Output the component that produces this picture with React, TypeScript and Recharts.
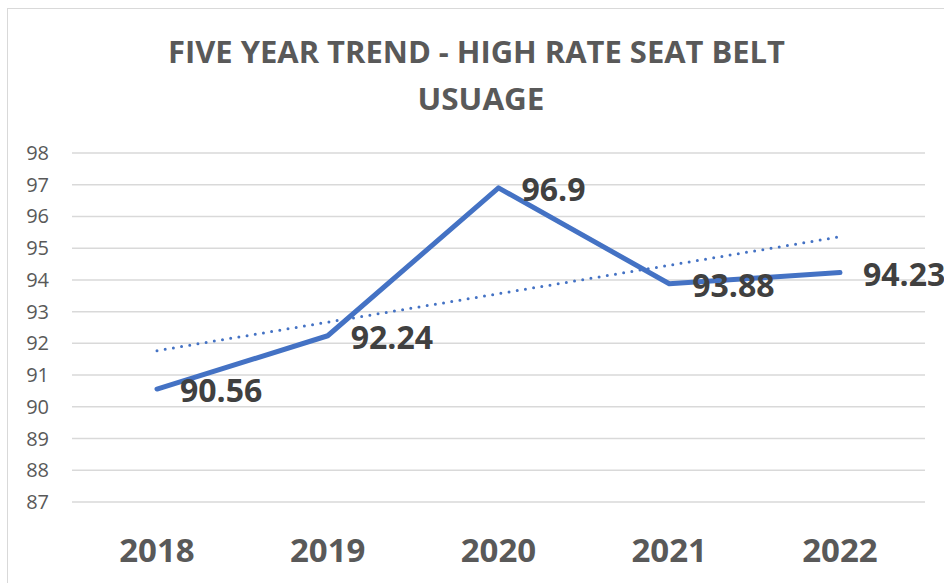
import React from 'react';
import { LineChart, Line, XAxis, YAxis, CartesianGrid, ReferenceLine, LabelList } from 'recharts';

const years = ['2018', '2019', '2020', '2021', '2022'];
const usage = [90.56, 92.24, 96.9, 93.88, 94.23];
const yTicks = [87, 88, 89, 90, 91, 92, 93, 94, 95, 96, 97, 98];
const trendStart = 91.77;
const trendEnd = 95.36;
const titleLines = ['FIVE YEAR TREND - HIGH RATE SEAT BELT', 'USUAGE'];

const data = years.map((year, i) => ({ year, value: usage[i] }));

const FONT = '"Open Sans", "Noto Sans", sans-serif';
const BLUE = '#4472c4';

const XTick = (props: any) => {
  const { x, payload } = props;
  return (
    <text x={x} y={562} textAnchor="middle" fontFamily={FONT} fontWeight={700} fontSize={33} fill="#595959">
      {payload.value}
    </text>
  );
};

const YTick = (props: any) => {
  const { y, payload } = props;
  return (
    <text x={49} y={y} dy={7} textAnchor="end" fontFamily={FONT} fontSize={20} fill="#595959">
      {payload.value}
    </text>
  );
};

const renderLabel = (props: any) => {
  const { x, y, value } = props;
  return (
    <text x={Number(x) + 23} y={Number(y) + 13} textAnchor="start" fontFamily={FONT} fontWeight={700} fontSize={32} fill="#404040">
      {value}
    </text>
  );
};

export default function App() {
  return (
    <div style={{ position: 'absolute', left: 0, top: 0, width: 944, height: 583, overflow: 'hidden', background: '#fff' }}>
      <div style={{ position: 'absolute', left: 7, top: 8, width: 1200, height: 900, borderLeft: '1.5px solid #d9d9d9', borderTop: '1.5px solid #d9d9d9' }} />
      <div style={{ position: 'absolute', left: 0, top: 0 }}>
        <LineChart width={944} height={583} data={data} margin={{ top: 153, right: 19, bottom: 0, left: 0 }}>
          <CartesianGrid vertical={false} stroke="#d9d9d9" strokeWidth={1.5} />
          <XAxis dataKey="year" height={81} axisLine={false} tickLine={false} tick={<XTick />} interval={0} padding={{ left: 85, right: 85 }} />
          <YAxis domain={[87, 98]} ticks={yTicks} width={72} axisLine={false} tickLine={false} tick={<YTick />} interval={0} />
          <ReferenceLine
            segment={[{ x: years[0], y: trendStart }, { x: years[years.length - 1], y: trendEnd }]}
            stroke={BLUE}
            strokeWidth={3}
            strokeDasharray="0 8.3"
            strokeLinecap="round"
          />
          <Line
            type="linear"
            dataKey="value"
            stroke={BLUE}
            strokeWidth={5}
            strokeLinecap="round"
            strokeLinejoin="round"
            dot={false}
            activeDot={false}
            isAnimationActive={false}
          >
            <LabelList dataKey="value" content={renderLabel} />
          </Line>
        </LineChart>
      </div>
      <svg width={944} height={130} style={{ position: 'absolute', left: 0, top: 0, pointerEvents: 'none' }}>
        <text x={476.5} y={63} textAnchor="middle" fontFamily={FONT} fontWeight={700} fontSize={30} fill="#595959" textLength={617} lengthAdjust="spacingAndGlyphs">
          {titleLines[0]}
        </text>
        <text x={481} y={110} textAnchor="middle" fontFamily={FONT} fontWeight={700} fontSize={30} fill="#595959" textLength={127} lengthAdjust="spacingAndGlyphs">
          {titleLines[1]}
        </text>
      </svg>
    </div>
  );
}
